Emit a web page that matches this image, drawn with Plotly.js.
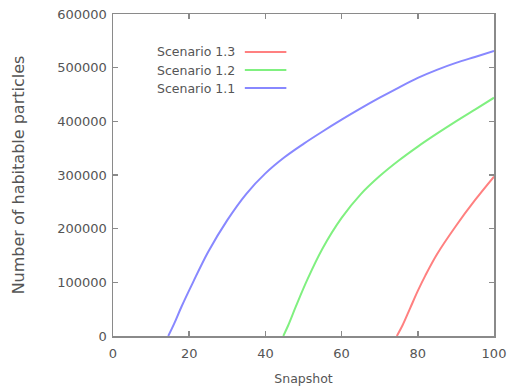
<!DOCTYPE html>
<html>
<head>
<meta charset="utf-8">
<script src="https://cdn.plot.ly/plotly-3.0.1.min.js"></script>
<style>html,body{margin:0;padding:0;background:#fff;}#chart{width:511px;height:391px;}</style>
</head>
<body>
<div id="chart"></div>
<script>
const seriesNames = ["Scenario 1.3", "Scenario 1.2", "Scenario 1.1"];
const seriesColors = ["#ff8080", "#80f080", "#8888ff"];

const blueX = [14.5, 16, 18, 21, 25, 30, 35, 40, 45, 50, 55, 60, 65, 70, 75, 80, 85, 90, 95, 100];
const blueY = [0, 22000, 55000, 100000, 157000, 216000, 265000, 303000, 333000, 358000, 381000, 403000, 424000, 444000, 463000, 481000, 496000, 509000, 520000, 531000];

const greenX = [44.7, 46, 48, 51, 55, 60, 65, 70, 75, 80, 85, 90, 95, 100];
const greenY = [0, 20000, 55000, 105000, 163000, 220000, 264000, 298000, 327000, 353000, 377000, 400000, 422000, 444000];

const redX = [74.5, 76, 78, 80, 82, 85, 90, 95, 100];
const redY = [0, 20000, 52000, 84000, 113000, 152000, 205000, 253000, 297000];

const xTicks = [0, 20, 40, 60, 80, 100];
const yTicks = [0, 100000, 200000, 300000, 400000, 500000, 600000];

const seriesX = [redX, greenX, blueX];
const seriesY = [redY, greenY, blueY];

const traces = seriesNames.map((n, i) => ({
  type: "scatter", mode: "lines", name: n,
  x: seriesX[i], y: seriesY[i],
  line: {color: seriesColors[i], width: 2, shape: "spline", smoothing: 1},
  showlegend: false, hoverinfo: "skip"
}));

const axisCommon = {
  showline: true, mirror: "ticks", linecolor: "#8a8a8a", linewidth: 1.5,
  ticks: "inside", ticklen: 5, tickcolor: "#8a8a8a", tickwidth: 1.5,
  showgrid: false, zeroline: false,
  tickfont: {family: "DejaVu Sans", size: 13, color: "#555"}
};

// legend built from annotations (text left of sample, as in the reference)
const legY = [0.882, 0.826, 0.770];
const annotations = seriesNames.map((n, i) => ({
  xref: "paper", yref: "paper", x: 0.325, y: legY[i], xanchor: "right", yanchor: "middle",
  text: n, showarrow: false, font: {family: "DejaVu Sans", size: 12.5, color: "#555"}
}));
const shapes = seriesNames.map((n, i) => ({
  type: "line", xref: "paper", yref: "paper", x0: 0.346, x1: 0.455, y0: legY[i], y1: legY[i],
  line: {color: seriesColors[i], width: 2}
}));

const layout = {
  width: 511, height: 391,
  margin: {l: 113, r: 17, t: 14, b: 55},
  paper_bgcolor: "#fff", plot_bgcolor: "#fff",
  showlegend: false,
  xaxis: Object.assign({}, axisCommon, {
    range: [0, 100], tickvals: xTicks, ticktext: xTicks.map(String),
    ticklabelstandoff: 5,
    title: {text: "Snapshot", font: {family: "DejaVu Sans", size: 12.5, color: "#555"}, standoff: 14}
  }),
  yaxis: Object.assign({}, axisCommon, {
    range: [0, 600000], tickvals: yTicks, ticktext: yTicks.map(String),
    ticklabelstandoff: 2,
    title: {text: "Number of habitable particles", font: {family: "DejaVu Sans", size: 16, color: "#555"}, standoff: 28}
  }),
  annotations: annotations,
  shapes: shapes
};

Plotly.newPlot("chart", traces, layout, {staticPlot: true, displayModeBar: false});
</script>
</body>
</html>
